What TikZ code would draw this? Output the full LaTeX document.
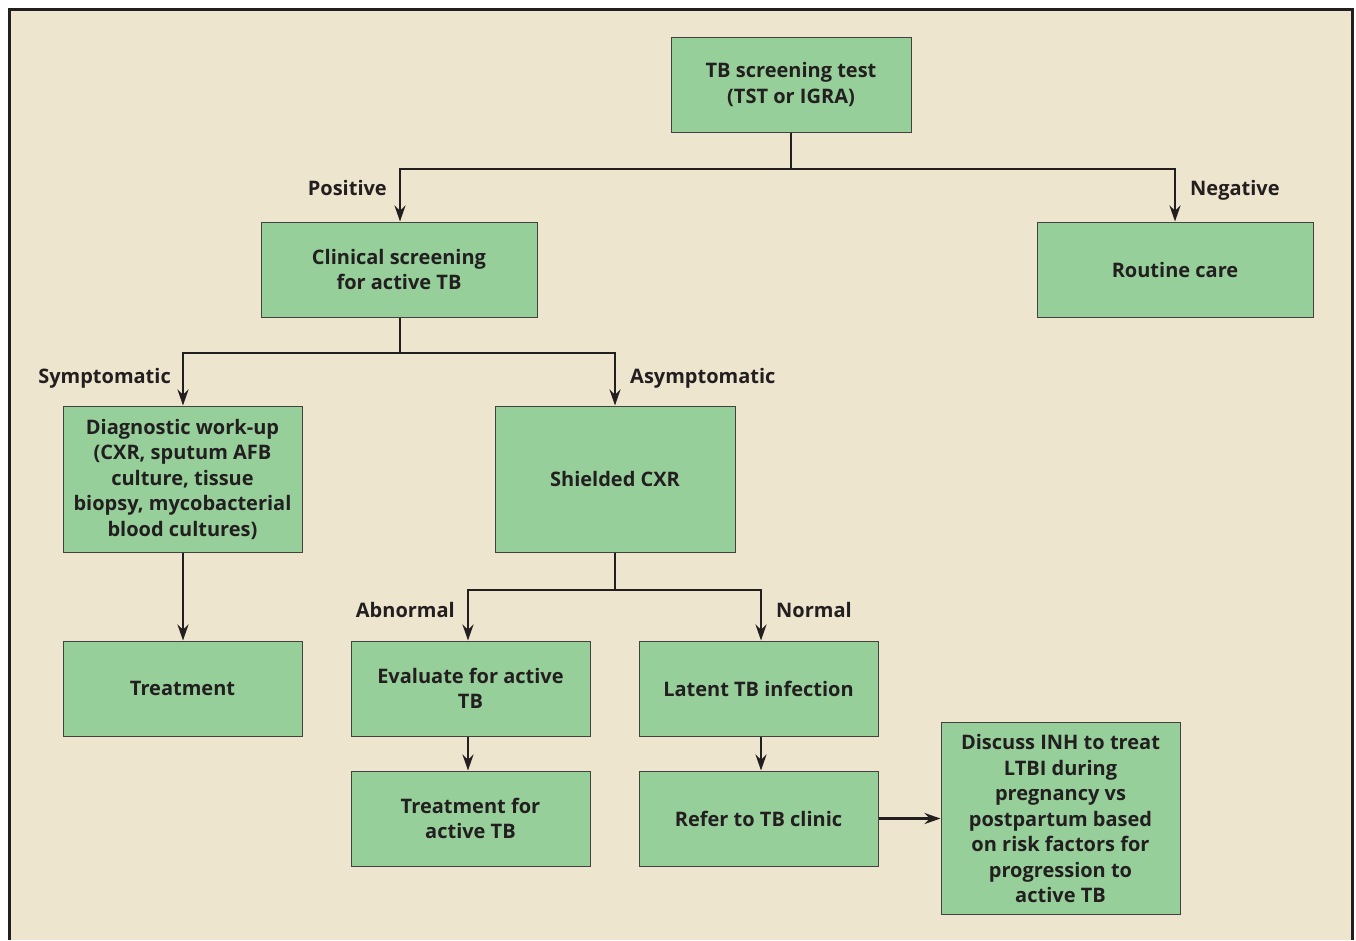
\documentclass[tikz,border=0pt]{standalone}
\usepackage{fontspec}
\setmainfont{Open Sans}
\usetikzlibrary{arrows.meta,positioning}
\definecolor{fondo}{HTML}{EEE5CE}
\definecolor{caja}{HTML}{96CF9A}
\definecolor{tinta}{HTML}{231F20}
\tikzset{
  box/.style={draw=tinta!85,line width=1pt,fill=caja,align=center,text=tinta,
    inner sep=0pt,font=\bfseries\fontsize{20}{25.5}\selectfont},
  link/.style={line width=2.6pt,draw=tinta,-{Stealth[length=16pt,width=11pt]}},
  lbl/.style={text=tinta,inner sep=0pt,font=\bfseries\fontsize{20}{25.5}\selectfont}
}
\begin{document}
\begin{tikzpicture}[x=1pt,y=-1pt]
    \useasboundingbox (0,0) rectangle (1356,940);

    % Marco
    \fill[white] (0,0) rectangle (1356,940);
    \fill[fondo] (9.5,9.5) rectangle (1352.5,940);
    \draw[line width=3pt,draw=tinta] (9.5,940) -- (9.5,9.5) -- (1352.5,9.5) -- (1352.5,940);

    % Cajas
    \node[box,minimum width=240pt,minimum height=95pt] (tbtest) at (791,84.5) {TB screening test\\(TST or IGRA)};
    \node[box,minimum width=276pt,minimum height=95pt] (clinical) at (399,269.5) {Clinical screening\\for active TB};
    \node[box,minimum width=276pt,minimum height=95pt] (routine) at (1175,269.5) {Routine care};
    \node[box,minimum width=239pt,minimum height=146pt] (diagnostic) at (182.5,479) {Diagnostic work-up\\(CXR, sputum AFB\\culture, tissue\\biopsy, mycobacterial\\blood cultures)};
    \node[box,minimum width=240pt,minimum height=146pt] (shielded) at (615,479) {Shielded CXR};
    \node[box,minimum width=239pt,minimum height=95pt] (treatment) at (182.5,688.5) {Treatment};
    \node[box,minimum width=239pt,minimum height=95pt] (evaluate) at (470.5,688.5) {Evaluate for active\\TB};
    \node[box,minimum width=239pt,minimum height=95pt] (latent) at (758.5,688.5) {Latent TB infection};
    \node[box,minimum width=239pt,minimum height=95pt] (treatactive) at (470.5,818.5) {Treatment for\\active TB};
    \node[box,minimum width=239pt,minimum height=95pt] (refer) at (758.5,818.5) {Refer to TB clinic};
    \node[box,minimum width=239pt,minimum height=192pt] (discuss) at (1060.5,818.5) {Discuss INH to treat\\LTBI during\\pregnancy vs\\postpartum based\\on risk factors for\\progression to\\active TB};

    % Bifurcaciones
    \coordinate (forktest) at (791,169);
    \coordinate (forkclin) at (400,353);
    \coordinate (forkcxr) at (615,590);

    % Conectores
    \draw[link] (tbtest.south) -- (forktest) -| (clinical.north -| 400,0);
    \draw[link] (tbtest.south) -- (forktest) -| (routine.north);
    \draw[link] (clinical.south -| forkclin) -- (forkclin) -| (diagnostic.north -| 183,0);
    \draw[link] (clinical.south -| forkclin) -- (forkclin) -| (shielded.north);
    \draw[link] (diagnostic.south -| 183,0) -- (treatment.north -| 183,0);
    \draw[link] (shielded.south) -- (forkcxr) -| (evaluate.north -| 468,0);
    \draw[link] (shielded.south) -- (forkcxr) -| (latent.north -| 761,0);
    \draw[link] (evaluate.south -| 468,0) -- (treatactive.north -| 468,0);
    \draw[link] (latent.south -| 761,0) -- (refer.north -| 761,0);
    \draw[link] (refer.east) -- (discuss.west);

    % Etiquetas
    \node[lbl,anchor=base east] (lpositive) at (387,195) {Positive};
    \node[lbl,anchor=base west] (lnegative) at (1190,195) {Negative};
    \node[lbl,anchor=base east] (lsympt) at (171,383) {Symptomatic};
    \node[lbl,anchor=base west] (lasympt) at (630,383) {Asymptomatic};
    \node[lbl,anchor=base east] (labnormal) at (455,617) {Abnormal};
    \node[lbl,anchor=base west] (lnormal) at (776,617) {Normal};
\end{tikzpicture}
\end{document}
